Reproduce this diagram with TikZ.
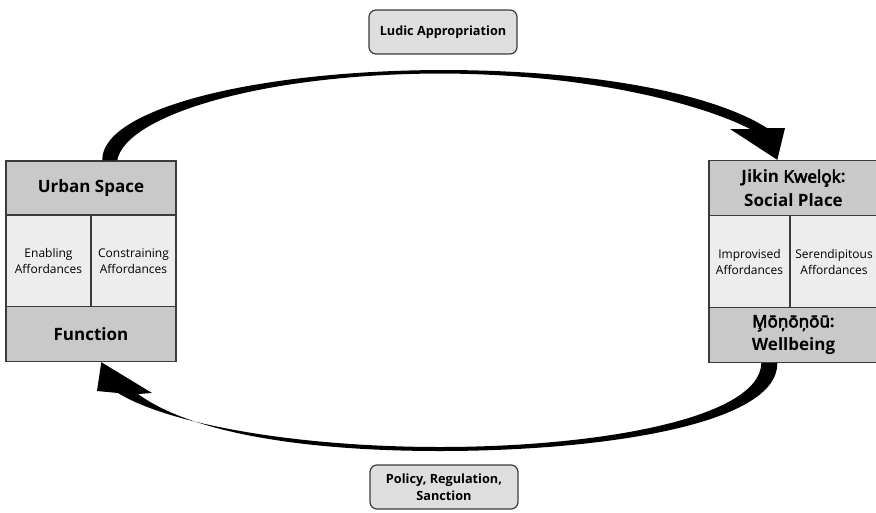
\documentclass[tikz,border=0pt]{standalone}
\usepackage{fontspec}
\setmainfont{Open Sans}
% Marshallese words need the combining cedilla
\newfontfamily\marsh{Noto Sans}[FakeBold=3.2]
\usetikzlibrary{calc}
\definecolor{edge}{gray}{0.23}
\definecolor{headfill}{gray}{0.79}
\definecolor{cellfill}{gray}{0.93}
\definecolor{tagfill}{gray}{0.87}
\tikzset{
  headcell/.style={draw=edge, line width=1.4pt, fill=headfill, inner sep=0pt,
    align=center, font=\fontsize{17}{23.5}\selectfont\bfseries},
  subcell/.style={draw=edge, line width=1.4pt, fill=cellfill, inner sep=0pt,
    align=center, font=\fontsize{12}{16}\selectfont},
  tag/.style={draw=edge, line width=1.2pt, fill=tagfill, rounded corners=7pt,
    inner sep=0pt, align=center, font=\fontsize{12.7}{17}\selectfont\bfseries},
  bigarrow/.style={fill=black, draw=none}
}
\begin{document}
\begin{tikzpicture}[x=1pt,y=-1pt]
\useasboundingbox (0,0) rectangle (876,512);

% left block: urban space
\node[headcell, minimum width=170pt, minimum height=54pt] (uspace) at (91,188) {Urban Space};
\node[subcell, minimum width=85pt, minimum height=92pt] (enab) at (48.5,261) {Enabling\\Affordances};
\node[subcell, minimum width=85pt, minimum height=92pt] (cons) at (133.5,261) {Constraining\\Affordances};
\node[headcell, minimum width=170pt, minimum height=55pt] (func) at (91,334) {Function};

% right block: social place
\node[headcell, minimum width=169pt, minimum height=55pt] (jikin) at (793.5,188) {Jikin {\marsh Kwelo̧k}:\\Social Place};
\node[subcell, minimum width=81pt, minimum height=92pt] (impr) at (749.5,261.5) {Improvised\\Affordances};
\node[subcell, minimum width=88pt, minimum height=92pt] (sere) at (834,261.5) {Serendipitous\\Affordances};
\node[headcell, minimum width=169pt, minimum height=55pt] (well) at (793.5,335) {{\marsh M̧ōņōņōū}:\\Wellbeing};

% labels on the two loops
\node[tag, minimum width=148pt, minimum height=44pt] (ludic) at (443,32) {Ludic Appropriation};
\node[tag, minimum width=148pt, minimum height=44pt] (policy) at (444,487) {Policy, Regulation,\\Sanction};

% upper loop: urban space -> social place
\coordinate (ta) at ($(uspace.north west)+(97,0)$);
\coordinate (tb) at ($(uspace.north west)+(112,0)$);
\coordinate (ttip) at ($(jikin.north west)+(69,0)$);
\fill[bigarrow] (ta) .. controls (101,110) and (250,71) .. (440,70)
  .. controls (600,70) and (715,95) .. (767,128)
  -- (785,128) -- (ttip) -- (730,129) -- (750,129)
  .. controls (710,108) and (600,74) .. (440,73.5)
  .. controls (260,74) and (125,116) .. (tb) -- cycle;

% lower loop: social place -> urban space
\coordinate (ba) at ($(well.south west)+(53,0)$);
\coordinate (bb) at ($(well.south west)+(69,0)$);
\coordinate (btip) at ($(func.south west)+(96,0)$);
\fill[bigarrow] (bb) .. controls (778,425) and (600,451) .. (440,451)
  .. controls (300,451) and (190,432) .. (138,394)
  -- (152,393) -- (btip) -- (97,391) -- (118,393)
  .. controls (170,425) and (300,447) .. (440,447)
  .. controls (600,447) and (760,418) .. (ba) -- cycle;
\end{tikzpicture}
\end{document}
